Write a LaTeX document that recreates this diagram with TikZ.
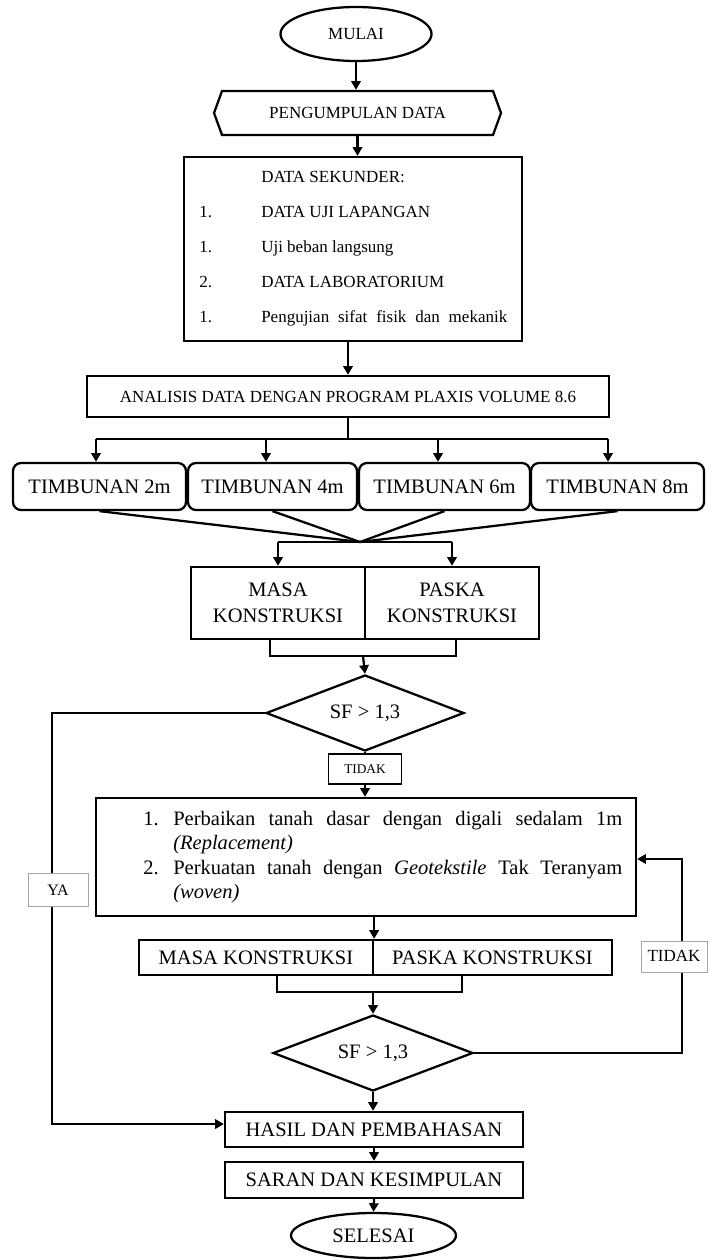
\documentclass[tikz,border=0pt]{standalone}
\usepackage{fontspec}
\setmainfont{Liberation Serif}
\usetikzlibrary{arrows.meta,shapes.geometric,shapes.symbols}
\def\fsmall{\fontsize{12.75}{15}\selectfont}
\def\flarge{\fontsize{15.4}{19.5}\selectfont}
\tikzset{
  conn/.style={line width=1.7pt},
  arr/.style={line width=1.7pt,-{Triangle[length=6.5pt,width=7pt]}},
  box/.style={draw,line width=1.7pt,inner sep=0pt,font=\flarge},
  txtl/.style={anchor=base west,inner sep=0pt,font=\fsmall},
  tagbox/.style={draw=gray!70,line width=0.6pt,fill=white,inner sep=0pt,font=\fsmall},
}

\begin{document}
\begin{tikzpicture}[x=0.75pt,y=-0.75pt]
			%%%%% START %%%%%
			\useasboundingbox (0,0) rectangle (711,1260);
			
			\node[box,ellipse,minimum width=113.25pt,minimum height=40.5pt,font=\fsmall] (mulai) at (356,34) {MULAI};
			\node[box,signal,signal to=west and east,signal pointer angle=140,minimum width=215.25pt,minimum height=33pt,font=\fsmall] (kumpul) at (357.5,113) {PENGUMPULAN DATA};
			\draw[arr] (mulai.south) -- (mulai.south |- kumpul.north);
			
			\node[box,minimum width=253.5pt,minimum height=138pt] (data) at (353,249) {};
			\draw[arr] (kumpul.south) -- (kumpul.south |- data.north);
			\node[txtl] (sek) at (261,182) {DATA SEKUNDER:};
			\node[txtl] (n1) at (199,217) {1.};
			\node[txtl] (lap) at (261,217) {DATA UJI LAPANGAN};
			\node[txtl] (n2) at (199,252) {1.};
			\node[txtl] (uji) at (261,252) {Uji beban langsung};
			\node[txtl] (n3) at (199,287) {2.};
			\node[txtl] (lab) at (261,287) {DATA LABORATORIUM};
			\node[txtl] (n4) at (199,322) {1.};
			\node[txtl] (fisik) at (261,322) {\makebox[184.5pt][s]{Pengujian sifat fisik dan mekanik}};
			
			\node[box,minimum width=391.5pt,minimum height=30.75pt,font=\fsmall] (analisis) at (348,396.5) {ANALISIS DATA DENGAN PROGRAM PLAXIS VOLUME 8.6};
			\draw[arr] (data.south -| analisis.north) -- (analisis.north);
			
			\node[box,rounded corners=6pt,minimum width=129.75pt,minimum height=35.25pt] (t2) at (99.5,486.5) {TIMBUNAN 2m};
			\node[box,rounded corners=6pt,minimum width=126.75pt,minimum height=35.25pt] (t4) at (272.5,486.5) {TIMBUNAN 4m};
			\node[box,rounded corners=6pt,minimum width=128.25pt,minimum height=35.25pt] (t6) at (444.5,486.5) {TIMBUNAN 6m};
			\node[box,rounded corners=6pt,minimum width=129.75pt,minimum height=35.25pt] (t8) at (617.5,486.5) {TIMBUNAN 8m};
			
			\coordinate (split) at (348,439);
			\coordinate (d2) at (96,439);
			\coordinate (d4) at (266,439);
			\coordinate (d6) at (438,439);
			\coordinate (d8) at (608,439);
			\draw[conn] (analisis.south) -- (split);
			\draw[conn] (d2) -- (d8);
			\draw[arr] (d2) -- (d2 |- t2.north);
			\draw[arr] (d4) -- (d4 |- t4.north);
			\draw[arr] (d6) -- (d6 |- t6.north);
			\draw[arr] (d8) -- (d8 |- t8.north);
			
			\coordinate (merge) at (360,542);
			\draw[conn] (t2.south) -- (merge);
			\draw[conn] (t4.south) -- (merge);
			\draw[conn] (t6.south) -- (merge);
			\draw[conn] (t8.south) -- (merge);
			
			\node[box,minimum width=130.5pt,minimum height=54pt,align=center] (masa) at (278,603) {MASA\\KONSTRUKSI};
			\node[box,minimum width=130.5pt,minimum height=54pt,align=center] (paska) at (452,603) {PASKA\\KONSTRUKSI};
			\draw[conn] (masa.north |- merge) -- (paska.north |- merge);
			\draw[arr] (masa.north |- merge) -- (masa.north);
			\draw[arr] (paska.north |- merge) -- (paska.north);
			
			\coordinate (join1) at (363,656);
			\draw[conn] ([xshift=-6pt]masa.south) |- (join1) -| ([xshift=3pt]paska.south);
			\node[box,diamond,aspect=2.6,minimum width=148.5pt,minimum height=57pt] (sf1) at (365,713) {SF > 1,3};
			\draw[arr] (join1) -- (sf1.north);
			
			\node[box,minimum width=405pt,minimum height=88.5pt] (fix) at (366,857) {};
			\draw[arr] (sf1.south) -- node[tagbox,pos=0.38,draw=black,line width=1.3pt,font=\fontsize{10}{12}\selectfont,minimum width=54.75pt,minimum height=22.5pt] {TIDAK} (sf1.south |- fix.north);
			\node[txtl,font=\flarge] (f1n) at (143,825) {1.};
			\node[txtl,font=\flarge] (f1) at (173,825) {\makebox[336.75pt][s]{Perbaikan tanah dasar dengan digali sedalam 1m}};
			\node[txtl,font=\flarge] (f2) at (173,849.5) {\textit{(Replacement)}};
			\node[txtl,font=\flarge] (f3n) at (143,874) {2.};
			\node[txtl,font=\flarge] (f3) at (173,874) {\makebox[336.75pt][s]{Perkuatan tanah dengan \textit{Geotekstile} Tak Teranyam}};
			\node[txtl,font=\flarge] (f4) at (173,898.5) {\textit{(woven)}};
			
			\node[box,minimum width=175.5pt,minimum height=26.25pt] (mk) at (256,957.5) {MASA KONSTRUKSI};
			\node[box,minimum width=179.25pt,minimum height=26.25pt] (pk) at (492.5,957.5) {PASKA KONSTRUKSI};
			\draw[arr] (mk.north east |- fix.south) -- (mk.north east);
			
			\coordinate (join2) at (373,992);
			\draw[conn] ([xshift=15.75pt]mk.south) |- (join2) -| ([xshift=-22.9pt]pk.south);
			\node[box,diamond,aspect=2.6,minimum width=150pt,minimum height=57pt] (sf2) at (373,1053) {SF > 1,3};
			\draw[arr] (join2) -- (sf2.north);
			
			\node[box,minimum width=223.5pt,minimum height=26.25pt] (hasil) at (374,1129.5) {HASIL DAN PEMBAHASAN};
			\node[box,minimum width=223.5pt,minimum height=27pt] (saran) at (374,1180) {SARAN DAN KESIMPULAN};
			\node[box,ellipse,minimum width=123.75pt,minimum height=33.75pt] (selesai) at (373.5,1235.5) {SELESAI};
			\draw[arr] (sf2.south) -- (sf2.south |- hasil.north);
			\draw[arr] (hasil.south) -- (saran.north);
			\draw[arr] (saran.south) -- (selesai.north);
			
			% YA / TIDAK loops
			\coordinate (yaturn) at (52,713);
			\draw[arr] (sf1.west) -- (yaturn) |- node[tagbox,pos=0.215,xshift=4.5pt,minimum width=45pt,minimum height=24.75pt,font=\fontsize{12}{14}\selectfont] {YA} ([yshift=4.1pt]hasil.west);
			\coordinate (tdkturn) at (682,1053);
			\draw[arr] (sf2.east) -- (tdkturn) |- node[tagbox,pos=0.249,xshift=-6pt,minimum width=49.5pt,minimum height=23.25pt] {TIDAK} ([yshift=-1.5pt]fix.east);
			
			%%%%% END %%%%%
\end{tikzpicture}
\end{document}
